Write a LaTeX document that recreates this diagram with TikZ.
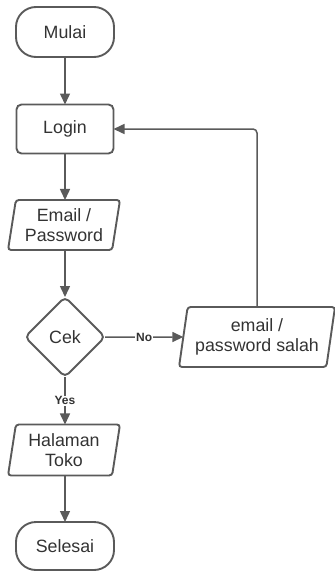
\documentclass[tikz,border=0pt]{standalone}
\usepackage{fontspec}
\setmainfont{Liberation Sans}
\usetikzlibrary{shapes.geometric,arrows.meta}
\definecolor{stroke}{HTML}{5A5A5A}
\definecolor{txt}{HTML}{333333}
\tikzset{
  base/.style={draw=stroke, line width=1.9pt, text=txt, font=\fontsize{17.8}{20}\selectfont, align=center, inner sep=2pt, outer sep=0pt},
  term/.style={base, rectangle, rounded corners=20pt, minimum width=98pt, minimum height=50pt},
  proc/.style={base, rectangle, rounded corners=5pt, minimum width=97pt, minimum height=49pt},
  io/.style={base, trapezium, trapezium left angle=78, trapezium right angle=102, trapezium stretches body, rounded corners=3pt},
  dec/.style={base, diamond, rounded corners=5pt, minimum width=80pt, minimum height=80pt},
  conn/.style={draw=stroke, line width=1.5pt, -{Triangle[length=11pt,width=10pt]}},
  lbl/.style={fill=white, text=txt, font=\bfseries\fontsize{12}{14}\selectfont, inner sep=1pt}
}
\begin{document}
\begin{tikzpicture}[x=1pt,y=-1pt]
\useasboundingbox (0,0) rectangle (335,571);
\node[term] (mulai) at (65,32) {Mulai};
\node[proc] (login) at (65,129) {Login};
\node[io, minimum width=112pt, minimum height=50pt] (email) at (64,225) {Email /\\Password};
\node[dec] (cek) at (65,337) {Cek};
\node[io, minimum width=156pt, minimum height=60pt] (salah) at (257,337) {email /\\password salah};
\node[io, minimum width=112pt, minimum height=51pt] (halaman) at (64,450) {Halaman\\Toko};
\node[term, minimum height=48pt] (selesai) at (65,546) {Selesai};
\draw[conn] (mulai) -- (login);
\draw[conn] (login) -- (login |- email.north);
\draw[conn] (email.south -| cek) -- (cek);
\draw[conn] (cek) -- node[lbl] {Yes} (halaman.north -| cek);
\draw[conn] (cek) -- node[lbl, pos=0.5] {No} (salah);
\draw[conn, rounded corners=4pt] (salah.north) |- (login);
\draw[conn] (halaman.south -| selesai) -- (selesai);
\end{tikzpicture}
\end{document}
